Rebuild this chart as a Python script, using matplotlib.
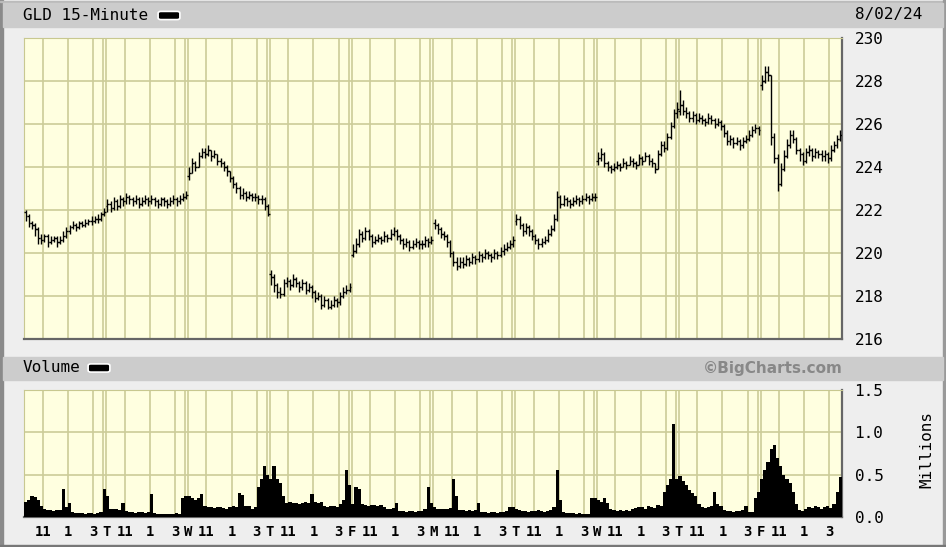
"""
GLD 15-minute price bars with volume, BigCharts style.
"""

import numpy as np
import matplotlib.pyplot as plt
from matplotlib.patches import Rectangle, FancyBboxPatch


# Data: 10 sessions of 26 fifteen-minute bars

day_letters = ["M", "T", "W", "T", "F", "M", "T", "W", "T", "F"]
day_opens = [221.9, 222.2, 223.6, 219.0, 219.9, 221.4, 221.5, 224.3, 226.6, 227.8]

closes = [
    # M
    221.7, 221.4, 221.3, 221.1, 220.7, 220.6, 220.8, 220.5, 220.6, 220.7, 220.5, 220.6, 220.8,
    221.0, 221.2, 221.3, 221.2, 221.4, 221.3, 221.4, 221.5, 221.5, 221.6, 221.6, 221.8, 221.9,
    # T
    222.3, 222.1, 222.4, 222.2, 222.5, 222.4, 222.6, 222.5, 222.4, 222.5, 222.3, 222.4, 222.5,
    222.4, 222.5, 222.4, 222.3, 222.5, 222.4, 222.3, 222.4, 222.5, 222.4, 222.5, 222.6, 222.7,
    # W
    223.7, 224.2, 224.0, 224.5, 224.7, 224.6, 224.8, 224.5, 224.6, 224.3, 224.2, 224.0, 223.8,
    223.5, 223.2, 223.0, 222.7, 222.8, 222.6, 222.7, 222.6, 222.6, 222.5, 222.5, 222.2, 221.8,
    # T
    218.9, 218.5, 218.2, 218.1, 218.6, 218.7, 218.5, 218.8, 218.6, 218.4, 218.6, 218.3, 218.4,
    218.2, 217.9, 218.0, 217.6, 217.8, 217.5, 217.6, 217.8, 217.7, 218.0, 218.2, 218.3, 218.4,
    # F
    220.1, 220.4, 220.9, 220.7, 221.0, 220.8, 220.5, 220.6, 220.7, 220.6, 220.8, 220.7, 220.9,
    221.0, 220.8, 220.6, 220.4, 220.5, 220.3, 220.4, 220.5, 220.4, 220.4, 220.6, 220.5, 220.6,
    # M
    221.3, 221.1, 220.9, 220.8, 220.5, 220.0, 219.6, 219.4, 219.6, 219.5, 219.7, 219.6, 219.8,
    219.7, 219.9, 219.8, 220.0, 219.9, 219.8, 220.0, 219.9, 220.1, 220.2, 220.3, 220.4, 220.6,
    # T
    221.6, 221.3, 221.0, 221.2, 221.0, 220.8, 220.6, 220.4, 220.5, 220.6, 220.9, 221.1, 221.6,
    222.6, 222.3, 222.5, 222.4, 222.3, 222.4, 222.5, 222.4, 222.5, 222.6, 222.5, 222.6, 222.6,
    # W
    224.4, 224.6, 224.2, 224.0, 223.9, 224.0, 224.1, 224.0, 224.2, 224.1, 224.3, 224.2, 224.1,
    224.4, 224.3, 224.5, 224.3, 224.2, 223.9, 224.6, 225.0, 224.9, 225.4, 225.9, 226.5, 226.7,
    # T
    226.9, 226.6, 226.5, 226.3, 226.4, 226.2, 226.3, 226.2, 226.1, 226.3, 226.2, 226.0, 226.1,
    225.9, 225.6, 225.2, 225.3, 225.1, 225.2, 225.0, 225.2, 225.3, 225.5, 225.7, 225.8, 225.7,
    # F
    228.0, 228.4, 228.3, 225.4, 224.4, 223.2, 223.9, 224.5, 225.0, 225.5, 225.3, 224.8, 224.6,
    224.3, 224.7, 224.8, 224.5, 224.7, 224.6, 224.5, 224.6, 224.4, 224.8, 225.0, 225.3, 225.5,
]

highs = [
    222.0, 221.8, 221.5, 221.4, 221.2, 220.9, 220.9, 220.9, 220.8, 220.8, 220.8, 220.8, 221.0,
    221.2, 221.3, 221.5, 221.4, 221.5, 221.5, 221.6, 221.6, 221.7, 221.7, 221.8, 221.9, 222.1,
    222.5, 222.4, 222.6, 222.5, 222.7, 222.6, 222.8, 222.7, 222.6, 222.7, 222.6, 222.6, 222.7,
    222.6, 222.7, 222.6, 222.5, 222.6, 222.6, 222.5, 222.6, 222.7, 222.6, 222.7, 222.8, 222.9,
    224.0, 224.4, 224.3, 224.7, 224.9, 224.9, 225.0, 224.8, 224.8, 224.6, 224.4, 224.3, 224.1,
    223.8, 223.6, 223.3, 223.1, 223.0, 222.9, 222.9, 222.8, 222.8, 222.7, 222.7, 222.6, 222.3,
    219.2, 219.0, 218.6, 218.4, 218.8, 218.9, 218.8, 219.0, 218.9, 218.7, 218.8, 218.7, 218.6,
    218.5, 218.3, 218.2, 218.1, 218.0, 217.9, 217.8, 218.0, 217.9, 218.2, 218.4, 218.5, 218.6,
    220.4, 220.7, 221.1, 221.0, 221.2, 221.1, 220.9, 220.8, 220.9, 220.8, 221.0, 220.9, 221.1,
    221.2, 221.1, 220.9, 220.7, 220.7, 220.6, 220.6, 220.7, 220.6, 220.6, 220.8, 220.7, 220.8,
    221.6, 221.4, 221.2, 221.0, 220.9, 220.6, 220.1, 219.8, 219.8, 219.8, 219.9, 219.8, 220.0,
    219.9, 220.1, 220.0, 220.2, 220.1, 220.0, 220.2, 220.1, 220.3, 220.4, 220.5, 220.6, 220.8,
    221.8, 221.7, 221.4, 221.4, 221.3, 221.1, 220.9, 220.7, 220.7, 220.8, 221.1, 221.3, 221.8,
    222.9, 222.7, 222.7, 222.6, 222.5, 222.6, 222.7, 222.6, 222.7, 222.8, 222.7, 222.8, 222.8,
    224.7, 224.9, 224.7, 224.3, 224.1, 224.2, 224.3, 224.2, 224.4, 224.3, 224.5, 224.4, 224.3,
    224.6, 224.5, 224.7, 224.6, 224.4, 224.2, 224.8, 225.2, 225.2, 225.6, 226.1, 226.7, 227.0,
    227.6, 227.1, 226.8, 226.6, 226.6, 226.5, 226.5, 226.4, 226.3, 226.5, 226.4, 226.3, 226.3,
    226.2, 226.0, 225.7, 225.5, 225.4, 225.4, 225.3, 225.4, 225.5, 225.7, 225.9, 226.0, 225.9,
    228.3, 228.7, 228.7, 228.3, 225.6, 224.6, 224.2, 224.8, 225.3, 225.7, 225.7, 225.4, 224.9,
    224.7, 224.9, 225.0, 224.9, 224.9, 224.8, 224.8, 224.8, 224.7, 225.0, 225.2, 225.5, 225.7,
]

lows = [
    221.5, 221.2, 221.1, 220.8, 220.4, 220.4, 220.5, 220.3, 220.4, 220.5, 220.3, 220.4, 220.5,
    220.7, 220.9, 221.1, 221.0, 221.1, 221.2, 221.2, 221.3, 221.3, 221.4, 221.4, 221.5, 221.7,
    221.9, 221.9, 222.0, 222.0, 222.1, 222.2, 222.3, 222.3, 222.2, 222.3, 222.1, 222.2, 222.3,
    222.2, 222.3, 222.2, 222.1, 222.2, 222.2, 222.1, 222.2, 222.3, 222.2, 222.3, 222.4, 222.5,
    223.4, 223.7, 223.8, 224.0, 224.4, 224.4, 224.5, 224.3, 224.4, 224.1, 224.0, 223.8, 223.6,
    223.3, 223.0, 222.8, 222.5, 222.5, 222.4, 222.5, 222.4, 222.4, 222.3, 222.3, 222.0, 221.7,
    218.5, 218.2, 217.9, 217.9, 218.0, 218.4, 218.3, 218.4, 218.4, 218.2, 218.3, 218.1, 218.2,
    217.9, 217.7, 217.8, 217.4, 217.5, 217.4, 217.4, 217.5, 217.5, 217.6, 217.9, 218.1, 218.2,
    219.8, 220.0, 220.3, 220.5, 220.6, 220.6, 220.3, 220.4, 220.5, 220.4, 220.5, 220.5, 220.6,
    220.8, 220.6, 220.4, 220.2, 220.3, 220.1, 220.2, 220.3, 220.2, 220.2, 220.3, 220.3, 220.4,
    221.1, 220.9, 220.7, 220.6, 220.3, 219.8, 219.4, 219.2, 219.3, 219.3, 219.4, 219.4, 219.5,
    219.5, 219.6, 219.6, 219.7, 219.7, 219.6, 219.7, 219.7, 219.8, 219.9, 220.1, 220.2, 220.3,
    221.3, 221.1, 220.8, 220.9, 220.8, 220.6, 220.4, 220.2, 220.3, 220.4, 220.5, 220.8, 221.0,
    221.5, 222.1, 222.2, 222.2, 222.1, 222.2, 222.3, 222.2, 222.3, 222.4, 222.3, 222.4, 222.4,
    224.1, 224.3, 224.0, 223.8, 223.7, 223.8, 223.9, 223.8, 224.0, 223.9, 224.1, 224.0, 223.9,
    224.1, 224.1, 224.3, 224.1, 224.0, 223.7, 223.9, 224.5, 224.7, 224.8, 225.3, 225.8, 226.3,
    226.4, 226.4, 226.3, 226.1, 226.1, 226.0, 226.1, 226.0, 225.9, 226.0, 226.0, 225.8, 225.9,
    225.7, 225.4, 225.0, 225.0, 224.9, 225.0, 224.8, 224.9, 225.1, 225.2, 225.4, 225.6, 225.5,
    227.6, 227.9, 228.0, 225.0, 224.2, 222.9, 223.1, 223.8, 224.4, 224.9, 225.1, 224.6, 224.3,
    224.1, 224.2, 224.5, 224.3, 224.4, 224.4, 224.3, 224.3, 224.2, 224.3, 224.7, 224.9, 225.2,
]

# Volume in millions of shares
volume = [
    0.18, 0.20, 0.25, 0.24, 0.20, 0.13, 0.10, 0.08, 0.08, 0.07, 0.08, 0.08, 0.33,
    0.12, 0.17, 0.06, 0.05, 0.05, 0.05, 0.04, 0.05, 0.05, 0.04, 0.05, 0.06, 0.33,
    0.25, 0.10, 0.09, 0.09, 0.08, 0.16, 0.07, 0.06, 0.06, 0.05, 0.06, 0.06, 0.05,
    0.06, 0.27, 0.05, 0.04, 0.04, 0.04, 0.04, 0.04, 0.04, 0.05, 0.04, 0.22, 0.25,
    0.25, 0.22, 0.20, 0.22, 0.27, 0.13, 0.12, 0.12, 0.11, 0.12, 0.12, 0.11, 0.10,
    0.12, 0.13, 0.12, 0.28, 0.26, 0.13, 0.13, 0.10, 0.12, 0.35, 0.45, 0.60, 0.50,
    0.45, 0.60, 0.45, 0.40, 0.25, 0.17, 0.18, 0.16, 0.17, 0.15, 0.17, 0.18, 0.16,
    0.27, 0.18, 0.17, 0.18, 0.13, 0.12, 0.13, 0.13, 0.12, 0.15, 0.20, 0.55, 0.38,
    0.15, 0.35, 0.33, 0.15, 0.14, 0.13, 0.14, 0.14, 0.13, 0.14, 0.12, 0.10, 0.10,
    0.11, 0.17, 0.07, 0.07, 0.06, 0.07, 0.07, 0.06, 0.07, 0.07, 0.09, 0.35, 0.17,
    0.12, 0.10, 0.10, 0.09, 0.10, 0.11, 0.45, 0.25, 0.08, 0.08, 0.07, 0.08, 0.07,
    0.08, 0.17, 0.06, 0.06, 0.05, 0.06, 0.06, 0.05, 0.06, 0.06, 0.07, 0.12, 0.12,
    0.10, 0.08, 0.07, 0.07, 0.06, 0.07, 0.07, 0.08, 0.07, 0.06, 0.07, 0.08, 0.12,
    0.55, 0.20, 0.06, 0.05, 0.05, 0.05, 0.04, 0.05, 0.04, 0.04, 0.03, 0.22, 0.22,
    0.20, 0.18, 0.22, 0.17, 0.09, 0.08, 0.07, 0.08, 0.07, 0.08, 0.07, 0.09, 0.11,
    0.12, 0.12, 0.10, 0.13, 0.12, 0.11, 0.14, 0.13, 0.30, 0.38, 0.45, 1.10, 0.45,
    0.48, 0.42, 0.38, 0.32, 0.28, 0.25, 0.15, 0.12, 0.11, 0.12, 0.13, 0.30, 0.15,
    0.13, 0.08, 0.07, 0.07, 0.06, 0.07, 0.07, 0.08, 0.13, 0.06, 0.06, 0.22, 0.30,
    0.45, 0.55, 0.65, 0.80, 0.85, 0.70, 0.60, 0.50, 0.45, 0.40, 0.30, 0.15, 0.08,
    0.07, 0.10, 0.12, 0.11, 0.13, 0.12, 0.10, 0.12, 0.13, 0.11, 0.15, 0.30, 0.47,
]

price_ticks = [216, 218, 220, 222, 224, 226, 228, 230]
vol_ticks = [0.0, 0.5, 1.0, 1.5]
bars_per_day = 26


# Layout helpers (figure is 946 x 547 px)

W, H = 946, 547
bg = "#eeeeee"
panel = "#ffffe0"
grid = "#cccc99"
mono = "DejaVu Sans Mono"


def fx(x):
    return x / W


def fy(y):
    return 1 - y / H


n_days = len(day_letters)
n_bars = n_days * bars_per_day
x = np.arange(n_bars) + 0.5

closes = np.array(closes)
opens = np.concatenate([[closes[0]], closes[:-1]])
opens[::bars_per_day] = day_opens

fig = plt.figure(figsize=(W / 100, H / 100), dpi=100)
fig.patch.set_facecolor(bg)

# frame and header strips
fig.add_artist(Rectangle((0, 0), fx(3), 1, transform=fig.transFigure, color="#8a8a8a"))
fig.add_artist(Rectangle((0, fy(2)), 1, fx(2), transform=fig.transFigure, color="#bbbbbb"))
fig.add_artist(Rectangle((fx(943), 0), fx(3), 1, transform=fig.transFigure, color="#999999"))
fig.add_artist(Rectangle((0, 0), 1, 2 / H, transform=fig.transFigure, color="#777777"))
fig.add_artist(Rectangle((fx(3), fy(27)), fx(940), 24 / H, transform=fig.transFigure, color="#cccccc"))
fig.add_artist(Rectangle((fx(3), fy(380)), fx(940), 23 / H, transform=fig.transFigure, color="#cccccc"))

ax = fig.add_axes([fx(24), fy(339), fx(818), (339 - 38) / H])
ax2 = fig.add_axes([fx(24), fy(517), fx(818), (517 - 390) / H])

# vertical session grid: open, 11, 1, 3, close
vlines = []
for d in range(n_days):
    base = d * bars_per_day
    if d > 0:
        vlines += [base - 0.85, base + 0.15]
    vlines += [base + 6, base + 14, base + 22]

for a in (ax, ax2):
    a.set_facecolor(panel)
    a.set_xlim(0, n_bars)
    for v in vlines:
        a.axvline(v, color=grid, lw=1.2, zorder=1)
    a.spines["top"].set_color("#c8c890")
    a.spines["left"].set_color("#c8c890")
    a.spines["bottom"].set_color("#666666")
    a.spines["right"].set_color("#666666")
    for s in ("bottom", "right"):
        a.spines[s].set_linewidth(1.6)
    a.yaxis.tick_right()
    a.tick_params(length=0, labelsize=11.5, pad=9)


# 1. Price bars----

for p in price_ticks[1:-1]:
    ax.axhline(p, color=grid, lw=1.2, zorder=1)
ax.vlines(x, lows, highs, color="black", lw=1.0, zorder=3)
ax.hlines(opens, x - 0.55, x, color="black", lw=1.0, zorder=3)
ax.hlines(closes, x, x + 0.55, color="black", lw=1.0, zorder=3)
ax.set_ylim(216, 230)
ax.set_yticks(price_ticks)
ax.set_yticklabels([str(p) for p in price_ticks], family=mono, fontsize=11.5)
ax.set_xticks([])


# 2. Volume----

for v in vol_ticks[1:-1]:
    ax2.axhline(v, color=grid, lw=1.2, zorder=1)
ax2.bar(x, volume, width=1.05, color="black", linewidth=0, zorder=3)
ax2.set_ylim(0, 1.5)
ax2.set_yticks(vol_ticks)
ax2.set_yticklabels([f"{v:.1f}" for v in vol_ticks], family=mono, fontsize=11.5)

tick_pos, tick_lab = [], []
for d in range(n_days):
    base = d * bars_per_day
    if d > 0:
        tick_pos.append(base + 0.15)
        tick_lab.append(day_letters[d])
    tick_pos += [base + 6, base + 14, base + 22]
    tick_lab += ["11", "1", "3"]
ax2.set_xticks(tick_pos)
ax2.set_xticklabels(tick_lab, family=mono, fontweight="bold", fontsize=10)
ax2.tick_params(axis="x", pad=6)


# 3. Header texts and legend keys----

fig.text(fx(23), fy(15), "GLD 15-Minute", family=mono, fontsize=11.5, va="center")
fig.text(fx(855), fy(15), "8/02/24", family=mono, fontsize=11.5, va="center")
fig.text(fx(23), fy(368), "Volume", family=mono, fontsize=11.5, va="center")
fig.text(fx(843), fy(368), "©BigCharts.com", family="DejaVu Sans", fontweight="bold",
         fontsize=11, color="#888888", ha="right", va="center")
fig.text(fx(927), fy(450), "Millions", family=mono, fontsize=11.5, rotation=90,
         ha="center", va="center")

for kx, ky in ((160, 15.5), (90, 368)):
    fig.add_artist(FancyBboxPatch((fx(kx), fy(ky + 3)), fx(18), 6 / H,
                                  boxstyle="round,pad=0.002,rounding_size=0.003",
                                  transform=fig.transFigure, facecolor="black",
                                  edgecolor="white", linewidth=1.2))

fig.savefig("out.png", dpi=100, facecolor=fig.get_facecolor())
